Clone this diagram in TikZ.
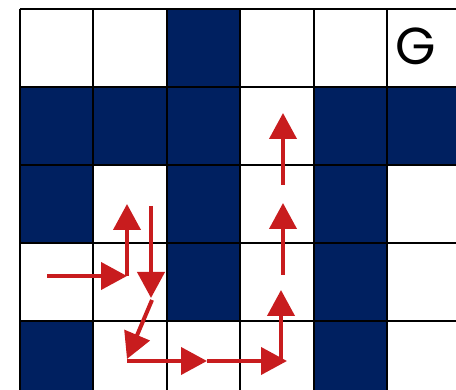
\documentclass[tikz,border=0pt]{standalone}
\usepackage{fontspec}
\newfontfamily\goalfont{Poppins}
\usetikzlibrary{arrows.meta}
\definecolor{wallblue}{RGB}{0,32,96}
\definecolor{pathred}{RGB}{200,28,30}
\tikzset{
  wall/.style={fill=wallblue},
  gridline/.style={black,line width=2pt},
  move/.style={pathred,line width=4pt,-{Triangle[length=26pt,width=27pt]}}
}
\begin{document}
\begin{tikzpicture}[x=1pt,y=-1pt]
  \useasboundingbox (0,0) rectangle (456,390);
  \clip (0,0) rectangle (456,390);
  % walls, given as column/row
  \foreach \c/\r in {2/0,0/1,1/1,2/1,4/1,5/1,0/2,2/2,4/2,2/3,4/3,0/4,4/4}
    \fill[wall] (19.5+73.5*\c,9+78*\r) rectangle ++(73.5,78);
  % grid
  \foreach \c in {0,...,5}
    \draw[gridline] (19.5+73.5*\c,9) -- (19.5+73.5*\c,400);
  \foreach \r in {0,...,4}
    \draw[gridline] (19.5,9+78*\r) -- (470,9+78*\r);
  \node[font=\goalfont\fontsize{52}{52}\selectfont] (goal) at (416,46) {G};
  % the path taken
  \coordinate (start) at (47,276);
  \coordinate (p1) at (127,276);
  \coordinate (p2) at (127,204);
  \coordinate (p3) at (151,206);
  \coordinate (p4) at (151,298);
  \coordinate (p5) at (152,300);
  \coordinate (p6) at (127,359);
  \coordinate (p7) at (127,361);
  \coordinate (p8) at (207,361);
  \coordinate (p9) at (287,361);
  \coordinate (p10) at (281,361);
  \coordinate (p11) at (281,290);
  \coordinate (p12) at (283,275);
  \coordinate (p13) at (283,203);
  \coordinate (p14) at (283,185);
  \coordinate (p15) at (283,113);
  \draw[move] (start) -- (p1);
  \draw[move] (p1) -- (p2);
  \draw[move] (p3) -- (p4);
  \draw[move] (p5) -- (p6);
  \draw[move] (p7) -- (p8);
  \draw[move] (p8) -- (p9);
  \draw[move] (p10) -- (p11);
  \draw[move] (p12) -- (p13);
  \draw[move] (p14) -- (p15);
\end{tikzpicture}
\end{document}
